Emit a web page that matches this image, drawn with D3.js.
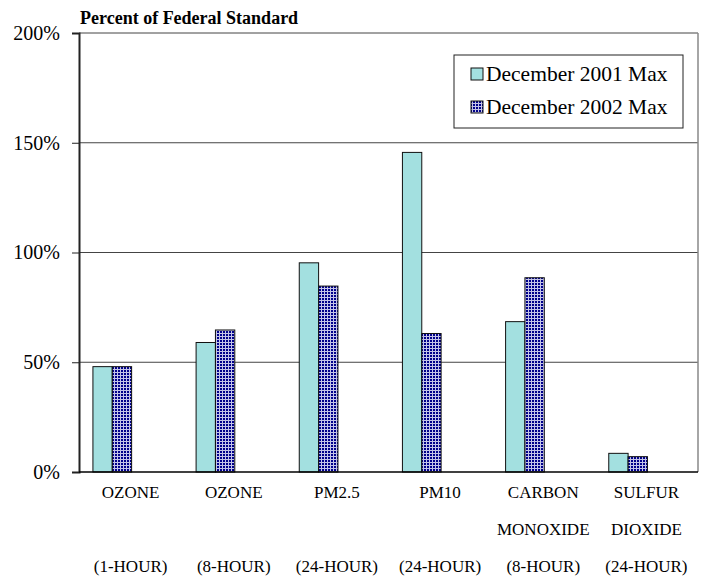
<!DOCTYPE html>
<head>
  <meta charset="utf-8">
  <script src="https://d3js.org/d3.v7.min.js"></script>
  <style>
    body { margin: 0; background: #fff; }
    text { font-family: "Liberation Serif", "Times New Roman", serif; fill: #000; }
  </style>
</head>
<body>
  <svg id="chart"></svg>
  <script>
    // chart data
    var pollutants = ["OZONE|(1-HOUR)", "OZONE|(8-HOUR)", "PM2.5|(24-HOUR)", "PM10|(24-HOUR)",
                      "CARBON|MONOXIDE|(8-HOUR)", "SULFUR|DIOXIDE|(24-HOUR)"];
    var seriesNames = ["December 2001 Max", "December 2002 Max"];
    var dec2001 = [48, 59, 95.3, 145.6, 68.5, 8.5];
    var dec2002 = [48, 64.7, 84.7, 63.1, 88.5, 7.0];
    var yTicks = [0, 50, 100, 150, 200];

    var width = 709, height = 578;
    var plotL = 79, plotR = 698, plotT = 33, plotB = 472;

    var svg = d3.select("#chart")
      .attr("width", width)
      .attr("height", height);

    // pattern for the 2002 bars
    var pat = svg.append("defs").append("pattern")
      .attr("id", "grid")
      .attr("patternUnits", "userSpaceOnUse")
      .attr("width", 3).attr("height", 3);
    pat.append("rect").attr("width", 3).attr("height", 3).attr("fill", "#00008a");
    pat.append("rect").attr("width", 3).attr("height", 1).attr("fill", "#c4c4e8");
    pat.append("rect").attr("width", 1).attr("height", 3).attr("fill", "#c4c4e8");

    var x = d3.scaleBand()
      .domain(d3.range(pollutants.length))
      .range([plotL, plotR]);

    var y = d3.scaleLinear()
      .domain([0, 200])
      .range([plotB, plotT]);

    //gridlines
    svg.selectAll(".grid")
      .data(yTicks.filter(d => d > 0))
      .enter().append("line")
      .attr("x1", plotL).attr("x2", plotR)
      .attr("y1", d => y(d)).attr("y2", d => y(d))
      .attr("stroke", "#444").attr("stroke-width", 1);

    //right border
    svg.append("line")
      .attr("x1", plotR).attr("x2", plotR)
      .attr("y1", plotT).attr("y2", plotB)
      .attr("stroke", "#888").attr("stroke-width", 1.5);

    //bars
    var bw = x.bandwidth() * 0.1875;
    var off = x.bandwidth() * 0.135;
    [dec2001, dec2002].forEach(function(vals, s) {
      svg.selectAll(".bar" + s)
        .data(vals)
        .enter().append("rect")
        .attr("x", (d, i) => x(i) + off + s * bw)
        .attr("y", d => y(d))
        .attr("width", bw)
        .attr("height", d => plotB - y(d))
        .attr("fill", s == 0 ? "#a3e0e0" : "url(#grid)")
        .attr("stroke", "#111")
        .attr("stroke-width", 1);
    });

    //axes
    var yAxis = svg.append("g")
      .attr("transform", `translate(${plotL},0)`)
      .call(d3.axisLeft(y).tickValues(yTicks).tickFormat(d => d + "%").tickSize(7).tickPadding(12));
    yAxis.select(".domain").attr("stroke", "#222").attr("stroke-width", 2);
    yAxis.selectAll(".tick line").attr("stroke", "#222");
    yAxis.selectAll("text").style("font-size", "20px").style("font-family", "Liberation Serif");

    svg.append("line")
      .attr("x1", plotL).attr("x2", plotR)
      .attr("y1", plotB).attr("y2", plotB)
      .attr("stroke", "#000").attr("stroke-width", 1.5);

    //category labels
    var lineY = [498, 535, 572];
    svg.selectAll(".cat")
      .data(pollutants)
      .enter().append("text")
      .attr("text-anchor", "middle")
      .style("font-size", "17px")
      .each(function(d, i) {
        var parts = d.split("|");
        var rows = parts.length == 2 ? [parts[0], "", parts[1]] : parts;
        var t = d3.select(this);
        rows.forEach(function(r, j) {
          if (r) t.append("tspan").attr("x", x(i) + x.bandwidth() / 2).attr("y", lineY[j]).text(r);
        });
      });

    //title
    svg.append("text")
      .attr("x", 80).attr("y", 24)
      .style("font-size", "18px").style("font-weight", "bold")
      .text("Percent of Federal Standard");

    //legend
    var lg = svg.append("g").attr("transform", "translate(454,55)");
    lg.append("rect")
      .attr("width", 229).attr("height", 73)
      .attr("fill", "#fff").attr("stroke", "#222").attr("stroke-width", 1);
    seriesNames.forEach(function(n, i) {
      lg.append("rect")
        .attr("x", 17).attr("y", 13 + i * 33)
        .attr("width", 12).attr("height", 12)
        .attr("fill", i == 0 ? "#a3e0e0" : "url(#grid)")
        .attr("stroke", "#111");
      lg.append("text")
        .attr("x", 32).attr("y", 26 + i * 33)
        .style("font-size", "21.5px")
        .text(n);
    });
  </script>
</body>
